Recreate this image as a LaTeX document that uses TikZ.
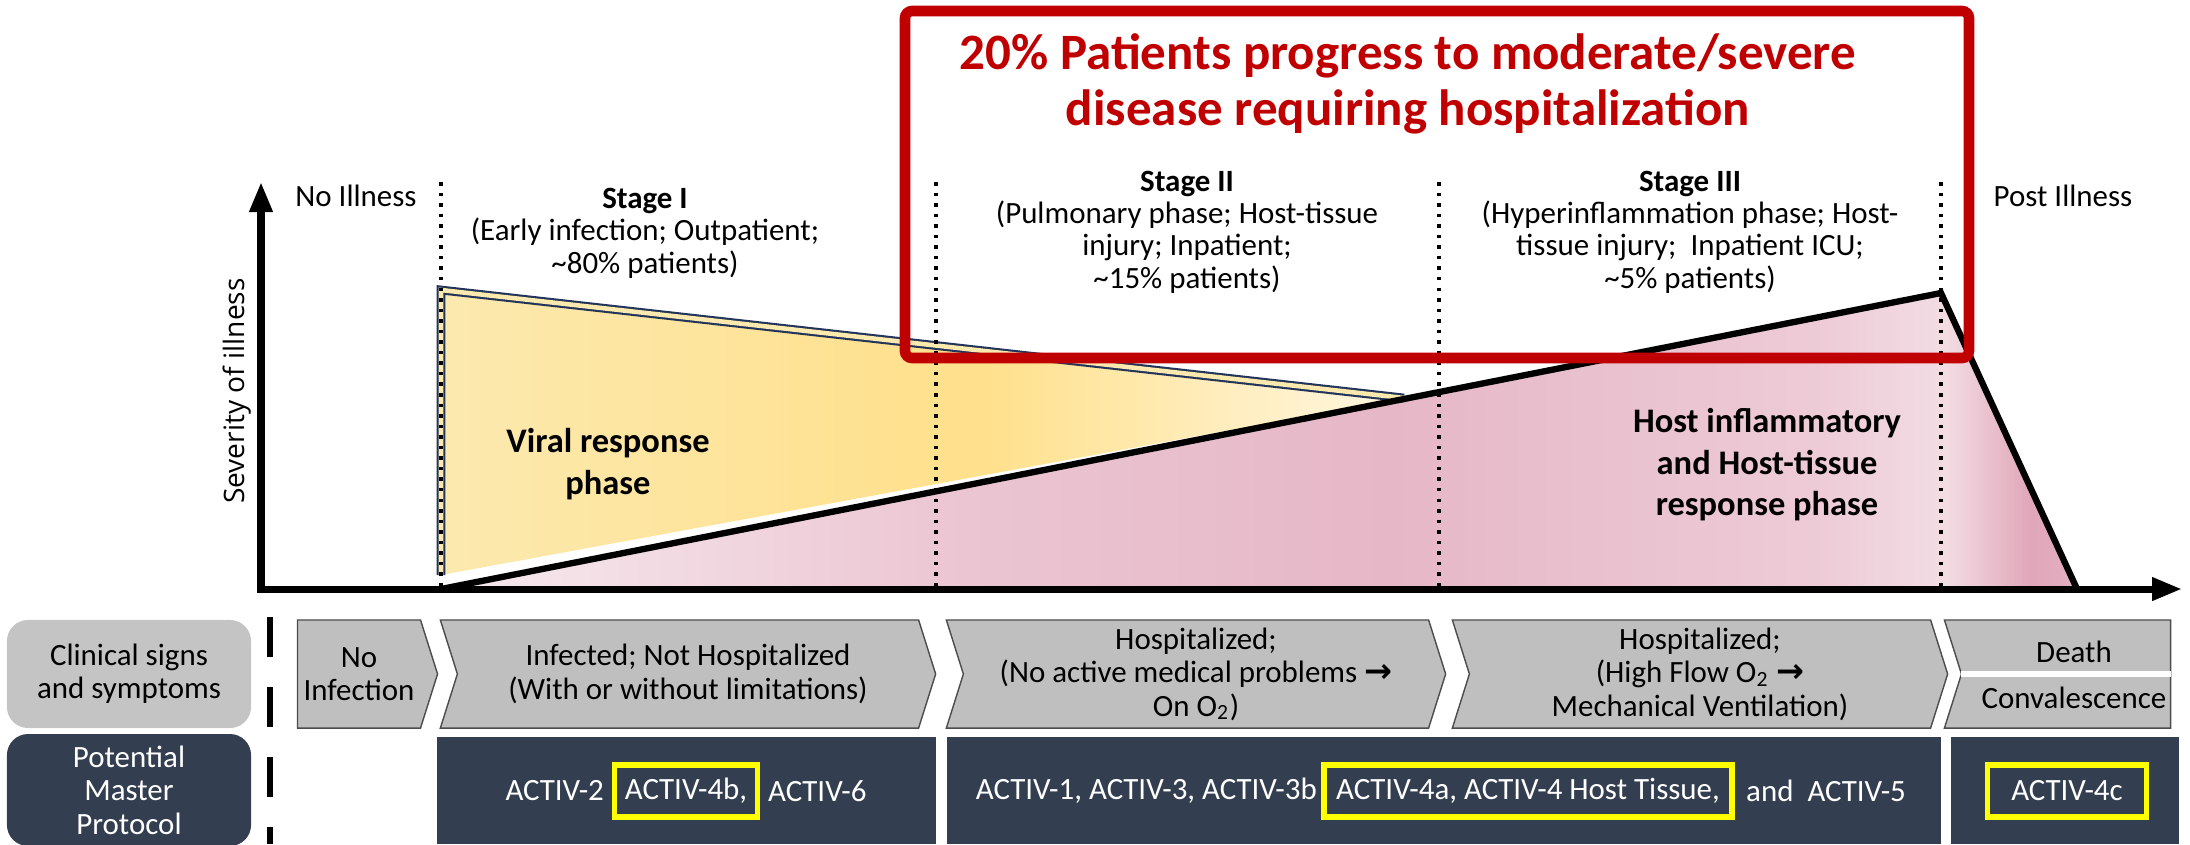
\documentclass[tikz,border=0pt]{standalone}
\usepackage{fontspec}
\setmainfont{Carlito}
\newfontfamily\axisfont{Open Sans}
\newfontfamily\arrowfont{DejaVu Sans}
\usetikzlibrary{positioning,shapes.symbols,arrows.meta}

\definecolor{darkred}{HTML}{C00000}
\definecolor{navy}{HTML}{333F50}
\definecolor{chevgray}{HTML}{BFBFBF}
\definecolor{sidegray}{HTML}{C4C4C4}
\definecolor{hilite}{HTML}{FFFF00}
\definecolor{edgeblue}{HTML}{22345A}
\definecolor{viralA}{HTML}{FCE9AE}
\definecolor{viralB}{HTML}{FFE08B}
\definecolor{viralC}{HTML}{FFF7E2}
\definecolor{hostA}{HTML}{F7EAEF}
\definecolor{hostB}{HTML}{EBC5D2}
\definecolor{hostC}{HTML}{E6B7C7}
\definecolor{hostD}{HTML}{EDCBD6}
\definecolor{hostE}{HTML}{F3DCE3}
\definecolor{hostF}{HTML}{E0A6B9}
\definecolor{hostG}{HTML}{E4B0C1}

\pgfdeclarehorizontalshading{viralfill}{100bp}{color(0bp)=(viralA); color(25bp)=(viralA); color(53bp)=(viralB); color(75bp)=(viralC); color(100bp)=(viralC)}
\pgfdeclarehorizontalshading{hostfill}{100bp}{color(0bp)=(hostA); color(25bp)=(hostA); color(41bp)=(hostB); color(54bp)=(hostC); color(67bp)=(hostD); color(71bp)=(hostE); color(73.6bp)=(hostF); color(75bp)=(hostG); color(100bp)=(hostG)}

\newcommand{\toarrow}{{\arrowfont\bfseries\fontsize{9.5}{9}\selectfont →}}

\begin{document}
\begin{tikzpicture}
  [x=0.01cm, y=-0.01cm,
   stage text/.style={align=center, font=\fontsize{8.8}{9.2}\selectfont},
   phase text/.style={align=center, font=\bfseries\fontsize{9.8}{11.8}\selectfont},
   title text/.style={align=center, text=darkred, font=\bfseries\fontsize{14.5}{16}\selectfont},
   chev box/.style={signal, draw=black!70, fill=chevgray, line width=0.4pt, signal pointer angle=145,
     minimum height=1.08cm, inner sep=0pt, align=center, font=\fontsize{8.8}{9.5}\selectfont},
   side box/.style={rounded corners=6pt, minimum width=2.44cm, align=center, font=\fontsize{8.8}{9.5}\selectfont},
   proto box/.style={fill=navy, minimum height=1.07cm, inner sep=0pt},
   proto text/.style={text=white, inner sep=0pt, font=\fontsize{8.8}{9.5}\selectfont},
   hilite box/.style={draw=hilite, line width=1.6pt, minimum height=0.52cm, inner sep=0pt, text=white, font=\fontsize{8.8}{9.5}\selectfont},
   divider/.style={dotted, line width=1pt}]
  \useasboundingbox (0,0) rectangle (2190,844);

  % points of the severity plot
  \coordinate (origin) at (261,589);
  \coordinate (ytip) at (261,182);
  \coordinate (xtip) at (2182,589);
  \coordinate (start) at (441,589);
  \coordinate (peak) at (1941,293);
  \coordinate (end) at (2077,589);
  \coordinate (vtop) at (441,290);
  \coordinate (vtip) at (1404,398);
  \coordinate (vbot) at (441,575);

  % phases
  \shade[shading=hostfill] (start) -- (peak) -- (end) -- cycle;
  \shade[shading=viralfill] (vtop) -- (vtip) -- (vbot) -- cycle;
  \draw[edgeblue, line width=0.6pt, double=viralA, double distance=1.3pt] (vbot) -- (vtop) -- (vtip);

  \foreach \x in {441,936,1439,1941}
    \draw[divider] (\x,182) -- (\x,587);

  \draw[line width=1.8pt] (start) -- (peak) -- (end);
  \draw[line width=2pt, {Triangle[length=0.3cm,width=0.22cm]}-{Triangle[length=0.3cm,width=0.22cm]}] (ytip) -- (origin) -- (xtip);

  % hospitalization box
  \draw[darkred, line width=3pt, rounded corners=2pt] (905,11) rectangle (1969,358);
  \node[title text] (title) at (1408,84) {20\% Patients progress to moderate/severe\\disease requiring hospitalization};

  % stage labels
  \node[stage text] (noill) at (356,196) {No Illness};
  \node[stage text] (stage1) at (645,233) {\textbf{Stage I}\\(Early infection; Outpatient;\\\textasciitilde80\% patients)};
  \node[stage text] (stage2) at (1187,232) {\textbf{Stage II}\\(Pulmonary phase; Host-tissue\\injury; Inpatient;\\\textasciitilde15\% patients)};
  \node[stage text] (stage3) at (1690,232) {\textbf{Stage III}\\(Hyperinflammation phase; Host-\\tissue injury;\ \ Inpatient ICU;\\\textasciitilde5\% patients)};
  \node[stage text] (postill) at (2063,196) {Post Illness};
  \node[rotate=90, font=\axisfont\fontsize{8}{9}\selectfont] (severity) at (237,391) {Severity of illness};

  \node[phase text] (viral) at (608,464) {Viral response\\phase};
  \node[phase text] (host) at (1767,465) {Host inflammatory\\and Host-tissue\\response phase};

  % clinical row
  \node[side box, fill=sidegray, minimum height=1.08cm] (clinical) at (129,674) {Clinical signs\\and symptoms};
  \node[side box, fill=navy, text=white, minimum height=1.07cm] (master) at (129,790) {Potential\\Master\\Protocol};
  \draw[line width=1.8pt, dash pattern=on 0.4cm off 0.3cm] (270,617) -- (270,844);

  \node[chev box, signal from=nowhere, signal to=east, minimum width=1.40cm] (noinf) at (359,674) {No\\Infection};
  \node[chev box, signal from=west, signal to=east, minimum width=4.95cm] (infected) at (688,674) {Infected; Not Hospitalized\\(With or without limitations)};
  \node[chev box, signal from=west, signal to=east, minimum width=4.99cm] (hospA) at (1196,674) {Hospitalized;\\(No active medical problems \toarrow\\On O\textsubscript{2})};
  \node[chev box, signal from=west, signal to=east, minimum width=4.95cm] (hospB) at (1700,674) {Hospitalized;\\(High Flow O\textsubscript{2} \toarrow\\Mechanical Ventilation)};
  \node[chev box, signal from=west, signal to=nowhere, minimum width=2.26cm] (outcome) at (2066,674) {};
  \draw[white, line width=1.6pt] (outcome.west) -- (outcome.east);
  \node[stage text] (death) at (2074,652) {Death};
  \node[stage text] (conval) at (2074,698) {Convalescence};

  % protocol row
  \node[proto box, minimum width=4.99cm] (protoA) at (686.5,790.5) {};
  \node[proto box, minimum width=9.94cm] (protoB) at (1444,790.5) {};
  \node[proto box, minimum width=2.28cm] (protoC) at (2065,790.5) {};

  \node[hilite box, minimum width=1.43cm] (act4b) at (686,791) {ACTIV-4b,};
  \node[proto text, left=2pt of act4b] (act2) {ACTIV-2};
  \node[proto text, right=2pt of act4b] (act6) {ACTIV-6};
  \node[hilite box, minimum width=4.08cm] (act4a) at (1528,791) {ACTIV-4a, ACTIV-4 Host Tissue,};
  \node[proto text, left=1pt of act4a] (act1) {ACTIV-1, ACTIV-3, ACTIV-3b};
  \node[proto text, right=3pt of act4a] (act5) {and\ \ ACTIV-5};
  \node[hilite box, minimum width=1.59cm] (act4c) at (2067,791) {ACTIV-4c};
\end{tikzpicture}
\end{document}
